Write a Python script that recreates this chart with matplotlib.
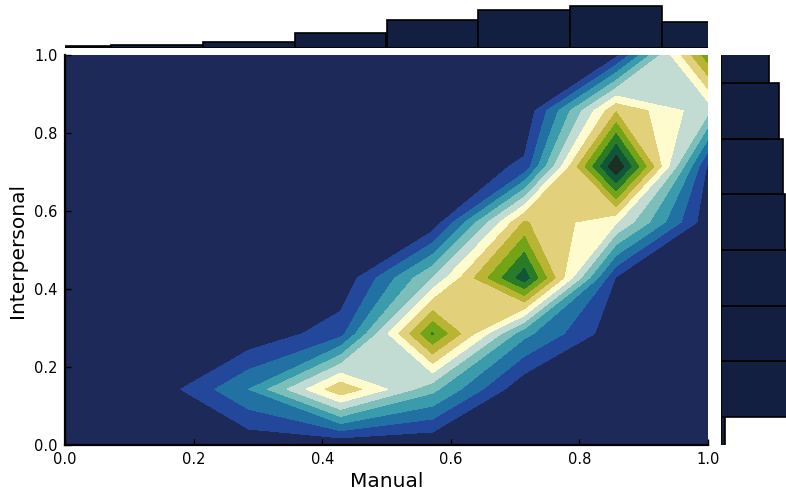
import numpy as np
import matplotlib
matplotlib.use("Agg")
import matplotlib.pyplot as plt

# Bin centres shared by the 2-D density and the marginal histograms
manual = np.linspace(0, 1, 8)
interpersonal = np.linspace(0, 1, 8)

# Joint density: one row per Interpersonal bin (bottom to top), one column per Manual bin
density = np.array([
    [0.0, 0.0, 0.20, 0.0, 0.0, 0.0, 0.0, 0.0],
    [0.0, 0.3, 3.0, 7.8, 4.3, 0.1, 0.0, 0.0],
    [0.0, 0.0, 0.15, 1.6, 10.1, 3.3, 0.3, 0.0],
    [0.0, 0.0, 0.0, 0.1, 5.0, 11.6, 0.9, 0.0],
    [0.0, 0.0, 0.0, 0.0, 0.2, 8.1, 6.1, 0.3],
    [0.0, 0.0, 0.0, 0.0, 0.0, 1.2, 13.0, 0.8],
    [0.0, 0.0, 0.0, 0.0, 0.0, 0.1, 7.9, 5.3],
    [0.0, 0.0, 0.0, 0.0, 0.0, 0.0, 0.7, 9.6],
])

# Marginal histogram counts
manual_counts = [2, 3, 6, 15, 28, 38, 42, 26]
interpersonal_counts = [4, 72, 70, 75, 64, 62, 58, 48]

levels = list(range(13)) + [14]
band_colors = [
    "#1c2959", "#22479b", "#2172a3", "#3a9bad", "#7cbfba", "#c3dcd3",
    "#fefbcf", "#e2d17a", "#b9b434", "#73a418", "#2a7b27", "#10573a",
    "#1b3021",
]
bar_color = "#121f41"

W, H = 786, 491
fig = plt.figure(figsize=(W / 100, H / 100), dpi=100)

def frac(x0, y0, w, h):
    return [x0 / W, 1 - (y0 + h) / H, w / W, h / H]

ax = fig.add_axes(frac(65, 55, 643, 390))
ax_top = fig.add_axes(frac(65, 0, 643, 48))
ax_right = fig.add_axes(frac(721, 55, 65, 390))

ax.contourf(manual, interpersonal, density, levels=levels, colors=band_colors)
ax.set_xlim(0, 1)
ax.set_ylim(0, 1)
ax.set_xticks(np.arange(0, 1.01, 0.2))
ax.set_yticks(np.arange(0, 1.01, 0.2))
ax.tick_params(direction="in", length=4, width=1, labelsize=10.5, colors="black")
ax.tick_params(axis="x", pad=5)
ax.tick_params(axis="y", pad=5.5)
for side in ("top", "right"):
    ax.spines[side].set_visible(False)
for side in ("left", "bottom"):
    ax.spines[side].set_linewidth(1.6)
ax.set_xlabel("Manual", fontsize=14.5, labelpad=3.5)
ax.set_ylabel("Interpersonal", fontsize=14.5, labelpad=5)

step = manual[1] - manual[0]
ax_top.bar(manual, manual_counts, width=step, color=bar_color,
           edgecolor="black", linewidth=1.2)
ax_top.set_xlim(0, 1)
ax_top.set_ylim(0, 48)
ax_top.axis("off")

ax_right.barh(interpersonal, interpersonal_counts, height=step, color=bar_color,
              edgecolor="black", linewidth=1.2)
ax_right.set_ylim(0, 1)
ax_right.set_xlim(0, 65)
ax_right.axis("off")

fig.savefig("out.png", dpi=100)
